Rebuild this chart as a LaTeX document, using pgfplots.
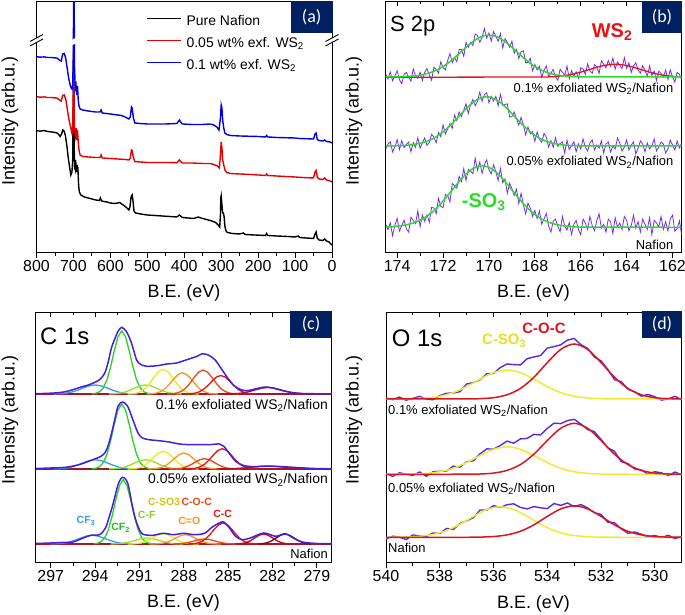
\documentclass[border=0pt]{standalone}
\usepackage{fontspec}
\setmainfont{Liberation Sans}
\newfontfamily\cali{Carlito}
\usepackage{pgfplots}
\pgfplotsset{compat=1.18}
\newcommand{\fs}[1]{\fontsize{#1}{#1}\selectfont}
\definecolor{navy}{RGB}{0,32,96}
\definecolor{apurple}{RGB}{125,40,240}
\definecolor{bgreen}{RGB}{40,220,40}
\definecolor{bred}{RGB}{230,20,20}
\definecolor{cenv}{RGB}{70,30,220}
\definecolor{cbase}{RGB}{170,20,40}
\definecolor{ccfthree}{RGB}{50,160,230}
\definecolor{ccftwo}{RGB}{40,210,40}
\definecolor{ccf}{RGB}{150,225,40}
\definecolor{ccso}{RGB}{235,235,20}
\definecolor{cco}{RGB}{250,150,30}
\definecolor{ccoc}{RGB}{240,70,20}
\definecolor{ccc}{RGB}{225,20,20}
\definecolor{cdone}{RGB}{185,10,30}
\definecolor{cdtwo}{RGB}{130,0,30}
\definecolor{lcso}{RGB}{200,200,20}
\definecolor{denv}{RGB}{90,40,230}
\definecolor{dred}{RGB}{220,20,30}
\definecolor{dyel}{RGB}{240,235,50}
\definecolor{ldyel}{RGB}{225,225,40}
\pgfplotsset{panel/.style={scale only axis, anchor=south west, x dir=reverse, ytick=\empty,
  xtick pos=left, tick align=outside, minor x tick num=1, major tick length=6bp, minor tick length=3.5bp,
  tick style={black, line width=0.9bp}, axis line style={line width=1bp},
  xticklabel style={font=\fs{16}, inner sep=2bp},
  /pgf/number format/assume math mode=true, /pgf/number format/1000 sep={}},
  topticks/.style={scale only axis, anchor=south west, x dir=reverse, ytick=\empty,
  xtick pos=right, tick align=inside, minor x tick num=1, major tick length=4.5bp, minor tick length=2.5bp,
  tick style={black, line width=0.9bp}, axis line style={draw=none}, xticklabel=\empty, ymin=0, ymax=1}}
\begin{document}
\begin{tikzpicture}[x=1bp,y=1bp]
\useasboundingbox (0,0) rectangle (685,615);
% ---------------- (a) ----------------
\begin{axis}[panel, at={(36.5bp,362.5bp)}, width=295.5bp, height=250.5bp,
  xmin=0, xmax=800, ymin=0, ymax=250.5, xtick={0,100,...,800},
  legend style={draw=none, fill=none, at={(0.3706,0.948)}, anchor=north west, font=\fs{14},
    inner sep=0pt, row sep=9bp, column sep=5bp, nodes={inner sep=0pt, text height=10bp, text depth=3bp}},
  legend cell align=left,
  legend image code/.code={\draw[#1] (0bp,3.5bp) -- (34bp,3.5bp);}]
\addplot[black, line width=1.4bp] coordinates {(800,121.8)(790,121.3)(780,122.0)(770,121.0)(760,120.6)(750,120.0)(745,119.6)(740,118.0)(736,116.0)(732,118.5)(729,122.5)(726,122.0)(722,117.5)(718,107.5)(714,94.5)(710,84.5)(707,77.5)(704,80.5)(702,92.5)(700.5,150)(699.5,200)(698.8,150)(698,110)(697,85)(695,82.5)(694,92.5)(692,80.5)(690,87.5)(689,80.5)(688,85.5)(686,67.5)(684,60.5)(680,57.5)(670,55.5)(660,54.5)(650,53.5)(640,52.5)(630,52.0)(627,54.5)(624,51.5)(610,50.5)(600,49.5)(590,49.0)(580,49.5)(575,50.0)(565,47.5)(555,44.5)(550,42.5)(547,45.5)(544,55.5)(541,57.5)(539,52.5)(536,41.5)(532,39.5)(525,39.0)(510,38.0)(500,37.5)(480,37.0)(460,36.5)(440,36.0)(420,35.5)(413,37.5)(410,36.5)(405,35.0)(390,34.5)(375,34.0)(362,35.5)(355,34.5)(340,33.0)(325,31.5)(315,30.0)(308,27.5)(304,25.5)(302,37.5)(301,54.5)(300,56.5)(298,47.5)(296,39.5)(294,39.5)(292,35.5)(290,26.5)(287,21.5)(283,20.0)(270,19.0)(250,18.5)(240,19.5)(235,18.0)(210,17.5)(180,17.0)(177,19.0)(174,17.0)(150,16.5)(120,16.0)(100,15.5)(92,16.5)(88,15.0)(70,14.5)(50,14.0)(46,18.5)(43,20.5)(40,14.5)(35,12.5)(25,12.0)(20,13.5)(15,11.5)(8,10.5)(3,8.5)(0,7.5)};
\addlegendentry{Pure Nafion}
\addplot[red!90!black, line width=1.4bp] coordinates {(800,155.8)(790,155.3)(780,155.6)(770,155.0)(760,155.0)(750,154.6)(745,154.5)(738,152.5)(733,151.5)(729,157.0)(725,157.5)(721,153.5)(717,144.5)(713,134.5)(709,127.5)(706,122.5)(704,119.5)(702,127.5)(700.5,160)(699.5,207)(698.8,180)(698,140)(697,125)(695,117.5)(693,124.5)(691,112.5)(689,122.5)(687,110.5)(685,102.5)(682,97.5)(675,96.0)(660,95.5)(640,95.0)(628,95.0)(625,97.5)(622,94.5)(600,94.0)(580,93.5)(560,93.0)(550,92.5)(546,94.5)(543,102.5)(541,102.0)(538,95.5)(534,91.0)(520,90.5)(500,90.0)(450,90.0)(420,89.8)(413,92.5)(410,91.0)(405,89.5)(380,89.5)(350,89.0)(330,89.0)(320,88.0)(310,86.5)(305,84.5)(302,97.5)(300,110.5)(298,104.5)(296,92.5)(293,87.5)(290,82.5)(285,80.0)(275,79.0)(250,78.5)(220,78.0)(180,77.0)(177,78.5)(174,77.0)(150,76.5)(100,75.5)(80,75.0)(50,74.5)(46,80.5)(43,82.0)(40,75.5)(35,73.5)(25,73.0)(20,74.5)(15,72.5)(5,71.5)(0,70.5)};
\addlegendentry{0.05 wt\% exf. WS\textsubscript{2}}
\addplot[blue!90!black, line width=1.4bp] coordinates {(800,195.8)(790,195.3)(780,195.6)(770,195.0)(760,195.0)(750,194.6)(745,194.5)(738,192.5)(733,191.5)(729,198.5)(725,199.0)(721,194.5)(717,184.5)(713,174.5)(709,167.5)(706,164.5)(704,163.5)(702,167.5)(700.5,195)(699.5,250)(698.8,290)(698,250)(697,185)(695,164.5)(693,167.5)(691,157.5)(689,166.5)(687,152.5)(685,146.5)(682,143.5)(675,142.5)(660,141.5)(640,140.5)(628,140.5)(625,142.5)(622,139.5)(600,138.5)(580,137.5)(570,137.0)(560,135.5)(550,133.5)(546,135.5)(543,145.5)(541,144.5)(538,135.5)(534,129.5)(520,129.0)(500,128.5)(450,128.5)(420,129.0)(413,132.5)(410,130.5)(405,128.5)(380,128.0)(350,128.0)(330,128.5)(320,127.5)(312,125.5)(306,122.5)(302,134.5)(300,147.5)(298,144.5)(296,132.5)(293,124.5)(290,119.5)(285,118.0)(275,117.0)(250,116.5)(200,116.0)(180,115.5)(177,117.0)(174,115.5)(150,115.0)(100,114.5)(90,114.0)(50,113.5)(46,118.5)(43,119.5)(40,113.0)(35,112.0)(25,111.5)(20,112.5)(15,111.0)(5,110.5)(0,109.5)};
\addlegendentry{0.1 wt\% exf. WS\textsubscript{2}}
\end{axis}
% ---------------- (b) ----------------
\begin{axis}[panel, at={(385.7bp,362.5bp)}, width=296bp, height=250.5bp,
  xmin=161.6, xmax=174.5, ymin=0, ymax=250.5, xtick={162,164,...,174}]
\addplot[apurple, line width=0.8bp] coordinates {(174.5,178.5)(174.4,173.5)(174.3,180.5)(174.2,171.6)(174.1,176.6)(174.0,181.7)(173.9,172.7)(173.8,168.8)(173.7,177.9)(173.6,180.0)(173.5,175.1)(173.4,171.3)(173.3,183.5)(173.2,176.7)(173.1,174.0)(173.0,180.3)(172.9,171.8)(172.8,180.3)(172.7,183.9)(172.6,177.5)(172.5,172.3)(172.4,185.2)(172.3,183.2)(172.2,179.3)(172.1,190.6)(172.0,185.0)(171.9,182.5)(171.8,192.2)(171.7,198.9)(171.6,189.8)(171.5,194.7)(171.4,190.8)(171.3,202.9)(171.2,203.0)(171.1,196.1)(171.0,210.2)(170.9,205.2)(170.8,210.1)(170.7,206.9)(170.6,218.5)(170.5,217.0)(170.4,210.2)(170.3,215.2)(170.2,223.9)(170.1,214.4)(170.0,219.5)(169.9,211.4)(169.8,220.9)(169.7,216.2)(169.6,211.2)(169.5,219.0)(169.4,204.5)(169.3,213.9)(169.2,210.1)(169.1,205.2)(169.0,211.2)(168.9,199.1)(168.8,203.0)(168.7,193.9)(168.6,200.8)(168.5,201.7)(168.4,189.8)(168.3,189.9)(168.2,194.2)(168.1,181.5)(168.0,188.0)(167.9,182.6)(167.8,186.3)(167.7,175.2)(167.6,182.2)(167.5,186.6)(167.4,175.9)(167.3,179.4)(167.2,183.0)(167.1,175.6)(167.0,172.3)(166.9,183.2)(166.8,180.2)(166.7,177.3)(166.6,186.4)(166.5,173.6)(166.4,181.9)(166.3,176.3)(166.2,180.7)(166.1,174.2)(166.0,184.8)(165.9,183.4)(165.8,178.1)(165.7,188.7)(165.6,181.4)(165.5,179.1)(165.4,187.8)(165.3,185.5)(165.2,179.1)(165.1,191.7)(165.0,188.2)(164.9,184.7)(164.8,192.0)(164.7,186.3)(164.6,194.5)(164.5,183.5)(164.4,190.5)(164.3,187.3)(164.2,184.0)(164.1,194.7)(164.0,184.2)(163.9,189.7)(163.8,180.1)(163.7,186.5)(163.6,189.8)(163.5,182.1)(163.4,179.4)(163.3,186.7)(163.2,182.0)(163.1,176.3)(163.0,186.6)(162.9,177.0)(162.8,181.4)(162.7,171.9)(162.6,181.4)(162.5,179.0)(162.4,175.6)(162.3,182.3)(162.2,173.0)(162.1,182.7)(162.0,175.5)(161.9,170.3)(161.8,180.2)(161.7,178.1)(161.6,172.9)};
\addplot[apurple, line width=0.8bp] coordinates {(174.5,103.6)(174.4,108.6)(174.3,110.6)(174.2,100.6)(174.1,105.7)(174.0,112.8)(173.9,102.8)(173.8,111.9)(173.7,105.0)(173.6,108.2)(173.5,110.4)(173.4,100.6)(173.3,109.9)(173.2,105.2)(173.1,114.7)(173.0,104.2)(172.9,109.8)(172.8,114.4)(172.7,107.2)(172.6,110.1)(172.5,118.2)(172.4,115.3)(172.3,109.7)(172.2,120.1)(172.1,115.8)(172.0,127.6)(171.9,118.5)(171.8,123.6)(171.7,128.8)(171.6,124.1)(171.5,137.4)(171.4,131.9)(171.3,140.4)(171.2,135.9)(171.1,142.4)(171.0,148.7)(170.9,139.0)(170.8,148.1)(170.7,153.0)(170.6,146.7)(170.5,151.1)(170.4,160.3)(170.3,151.1)(170.2,157.7)(170.1,159.8)(170.0,149.7)(169.9,156.1)(169.8,151.3)(169.7,156.1)(169.6,146.7)(169.5,158.0)(169.4,147.1)(169.3,148.0)(169.2,148.7)(169.1,135.4)(169.0,135.9)(168.9,140.4)(168.8,133.9)(168.7,127.4)(168.6,135.1)(168.5,127.8)(168.4,117.6)(168.3,125.5)(168.2,118.6)(168.1,120.8)(168.0,111.1)(167.9,120.7)(167.8,113.3)(167.7,110.2)(167.6,119.1)(167.5,115.2)(167.4,105.4)(167.3,111.8)(167.2,105.2)(167.1,114.7)(167.0,106.2)(166.9,108.9)(166.8,110.6)(166.7,99.4)(166.6,112.2)(166.5,103.0)(166.4,106.9)(166.3,110.8)(166.2,100.8)(166.1,108.7)(166.0,103.5)(165.9,113.5)(165.8,105.5)(165.7,101.5)(165.6,109.5)(165.5,112.5)(165.4,102.5)(165.3,107.5)(165.2,104.5)(165.1,111.5)(165.0,99.5)(164.9,108.5)(164.8,110.5)(164.7,100.5)(164.6,106.5)(164.5,103.5)(164.4,114.5)(164.3,109.5)(164.2,101.5)(164.1,105.5)(164.0,112.5)(163.9,102.5)(163.8,107.5)(163.7,110.5)(163.6,98.5)(163.5,104.5)(163.4,111.5)(163.3,108.5)(163.2,100.5)(163.1,109.5)(163.0,103.5)(162.9,106.5)(162.8,113.5)(162.7,101.5)(162.6,105.5)(162.5,110.5)(162.4,108.5)(162.3,99.5)(162.2,103.5)(162.1,112.5)(162.0,107.5)(161.9,102.5)(161.8,111.5)(161.7,104.5)(161.6,109.5)};
\addplot[apurple, line width=0.8bp] coordinates {(174.5,28.1)(174.4,23.0)(174.3,29.6)(174.2,16.8)(174.1,27.4)(174.0,34.1)(173.9,21.4)(173.8,26.9)(173.7,32.4)(173.6,23.8)(173.5,20.4)(173.4,35.3)(173.3,32.1)(173.2,29.0)(173.1,41.6)(173.0,25.8)(172.9,37.4)(172.8,31.0)(172.7,37.7)(172.6,30.3)(172.5,45.1)(172.4,44.5)(172.3,38.8)(172.2,54.2)(172.1,46.2)(172.0,44.9)(171.9,58.0)(171.8,56.9)(171.7,50.6)(171.6,69.1)(171.5,66.7)(171.4,64.4)(171.3,76.2)(171.2,71.1)(171.1,83.9)(171.0,72.0)(170.9,83.2)(170.8,81.1)(170.7,78.8)(170.6,94.3)(170.5,82.2)(170.4,90.5)(170.3,79.0)(170.2,87.9)(170.1,92.6)(170.0,82.6)(169.9,78.8)(169.8,87.6)(169.7,80.6)(169.6,72.0)(169.5,83.9)(169.4,69.8)(169.3,73.6)(169.2,59.2)(169.1,69.3)(169.0,63.9)(168.9,57.1)(168.8,63.4)(168.7,48.9)(168.6,59.2)(168.5,47.5)(168.4,38.6)(168.3,49.2)(168.2,44.5)(168.1,36.0)(168.0,42.0)(167.9,33.8)(167.8,41.4)(167.7,28.3)(167.6,33.6)(167.5,39.0)(167.4,26.4)(167.3,20.4)(167.2,31.4)(167.1,33.4)(167.0,26.4)(166.9,20.7)(166.8,36.0)(166.7,26.6)(166.6,22.4)(166.5,30.0)(166.4,18.1)(166.3,28.3)(166.2,32.1)(166.1,22.9)(166.0,17.8)(165.9,33.4)(165.8,29.5)(165.7,23.0)(165.6,36.0)(165.5,26.9)(165.4,21.7)(165.3,32.1)(165.2,38.6)(165.1,24.3)(165.0,28.2)(164.9,20.4)(164.8,33.4)(164.7,30.8)(164.6,19.1)(164.5,34.7)(164.4,25.6)(164.3,29.5)(164.2,23.0)(164.1,36.0)(164.0,32.1)(163.9,21.7)(163.8,26.9)(163.7,37.3)(163.6,24.3)(163.5,30.8)(163.4,20.4)(163.3,33.4)(163.2,28.2)(163.1,23.0)(163.0,34.7)(162.9,17.8)(162.8,32.1)(162.7,29.5)(162.6,25.6)(162.5,36.0)(162.4,23.0)(162.3,30.8)(162.2,21.7)(162.1,33.4)(162.0,37.3)(161.9,21.3)(161.8,23.9)(161.7,31.7)(161.6,17.4)};
\addplot[bred, line width=1.3bp] coordinates {(174.5,175.2)(167.5,175.5)(167.3,175.7)(167.1,176.0)(166.9,176.4)(166.7,177.0)(166.5,177.7)(166.3,178.6)(166.1,179.7)(165.9,181.0)(165.7,182.4)(165.5,183.8)(165.3,185.2)(165.1,186.4)(164.9,187.4)(164.7,188.0)(164.5,188.2)(164.3,188.0)(164.1,187.4)(163.9,186.4)(163.7,185.2)(163.5,183.8)(163.3,182.4)(163.1,181.0)(162.9,179.7)(162.7,178.6)(162.5,177.7)(162.3,177.0)(162.1,176.4)(161.9,176.0)(161.6,175.6)};
\addplot[bgreen, line width=1.5bp] coordinates {(174.5,175.5)(174.0,175.7)(173.8,175.8)(173.6,176.0)(173.4,176.3)(173.2,176.7)(173.0,177.3)(172.8,178.3)(172.6,179.5)(172.4,181.2)(172.2,183.3)(172.0,186.0)(171.8,189.2)(171.6,192.8)(171.4,196.8)(171.2,201.0)(171.0,205.2)(170.8,209.1)(170.6,212.5)(170.4,215.2)(170.2,216.9)(170.0,217.5)(169.8,216.9)(169.6,215.2)(169.4,212.5)(169.2,209.1)(169.0,205.2)(168.8,201.0)(168.6,196.8)(168.4,192.8)(168.2,189.2)(168.0,186.0)(167.8,183.3)(167.6,181.2)(167.4,179.5)(167.2,178.3)(167.0,177.3)(166.8,176.7)(166.6,176.3)(166.4,176.0)(166.2,175.8)(166.0,175.7)(161.6,175.5)};
\addplot[bgreen, line width=1.5bp] coordinates {(174.5,106.5)(174.1,106.7)(173.9,106.8)(173.7,107.0)(173.5,107.4)(173.3,107.9)(173.1,108.7)(172.9,109.8)(172.7,111.2)(172.5,113.2)(172.3,115.7)(172.1,118.8)(171.9,122.5)(171.7,126.8)(171.5,131.4)(171.3,136.4)(171.1,141.4)(170.9,146.0)(170.7,150.0)(170.5,153.1)(170.3,155.1)(170.1,155.8)(169.9,155.1)(169.7,153.1)(169.5,150.0)(169.3,146.0)(169.1,141.4)(168.9,136.4)(168.7,131.4)(168.5,126.8)(168.3,122.5)(168.1,118.8)(167.9,115.7)(167.7,113.2)(167.5,111.2)(167.3,109.8)(167.1,108.7)(166.9,107.9)(166.7,107.4)(166.5,107.0)(166.3,106.8)(166.1,106.7)(161.6,106.5)};
\addplot[bgreen, line width=1.5bp] coordinates {(174.5,25.6)(174.3,25.7)(174.1,26.1)(173.9,26.6)(173.7,27.2)(173.5,28.2)(173.3,29.5)(173.1,31.2)(172.9,33.5)(172.7,36.4)(172.5,39.9)(172.3,44.0)(172.1,48.8)(171.9,54.1)(171.7,59.7)(171.5,65.4)(171.3,71.0)(171.1,76.1)(170.9,80.6)(170.7,84.0)(170.5,86.1)(170.3,86.8)(170.1,86.1)(169.9,84.0)(169.7,80.6)(169.5,76.1)(169.3,71.0)(169.1,65.4)(168.9,59.7)(168.7,54.1)(168.5,48.8)(168.3,44.0)(168.1,39.9)(167.9,36.4)(167.7,33.5)(167.5,31.2)(167.3,29.5)(167.1,28.2)(166.9,27.2)(166.7,26.6)(166.5,26.1)(166.3,25.7)(166.0,25.4)(161.6,25.2)};
\end{axis}
\begin{axis}[topticks, at={(385.7bp,362.5bp)}, width=296bp, height=250.5bp, xmin=161.6, xmax=174.5, xtick={162,164,...,174}]
\addplot[draw=none] coordinates {(170,0.5)};
\end{axis}
% ---------------- (c) ----------------
\begin{axis}[panel, at={(36bp,52.5bp)}, width=295.7bp, height=249.8bp,
  xmin=278, xmax=298, ymin=0, ymax=249.8, xtick={279,282,...,297}]
\addplot[cbase, line width=1.2bp] coordinates {(298,168.5)(278,168.5)};
\addplot[cbase, line width=1.2bp] coordinates {(298,93.5)(278,93.5)};
\addplot[cbase, line width=1.2bp] coordinates {(298,18.5)(278,18.5)};
% top components
\addplot[ccfthree, line width=1.3bp] coordinates {(296.8,168.57)(296.4,168.76)(296.0,169.25)(295.6,170.35)(295.2,172.2)(294.8,174.6)(294.4,176.65)(294.0,177.5)(293.6,176.65)(293.2,174.6)(292.8,172.2)(292.4,170.35)(292.0,169.25)(291.6,168.76)(291.2,168.57)};
\addplot[ccftwo, line width=1.3bp] coordinates {(294.2,168.7)(293.95,169.2)(293.7,170.7)(293.45,174.7)(293.2,182.7)(292.95,195.8)(292.7,212.0)(292.45,225.9)(292.2,231.5)(291.95,225.9)(291.7,212.0)(291.45,195.8)(291.2,182.7)(290.95,174.7)(290.7,170.7)(290.45,169.2)(290.2,168.7)};
\addplot[ccf, line width=1.3bp] coordinates {(293.05,168.6)(292.7,168.8)(292.35,169.3)(292.0,170.4)(291.65,172.3)(291.3,174.6)(290.95,176.7)(290.6,177.5)(290.25,176.7)(289.9,174.6)(289.55,172.3)(289.2,170.4)(288.85,169.3)(288.5,168.8)(288.15,168.6)};
\addplot[ccso, line width=1.3bp] coordinates {(291.8,168.57)(291.5,168.8)(291.2,169.4)(290.9,171.0)(290.6,174.2)(290.3,179.3)(290.0,185.6)(289.7,191.0)(289.4,193.2)(289.1,191.0)(288.8,185.6)(288.5,179.3)(288.2,174.2)(287.9,171.0)(287.6,169.4)(287.3,168.8)(287.0,168.57)};
\addplot[cco, line width=1.3bp] coordinates {(290.5,168.56)(290.2,168.7)(289.9,169.3)(289.6,170.7)(289.3,173.4)(289.0,177.8)(288.7,183.3)(288.4,187.9)(288.1,189.8)(287.8,187.9)(287.5,183.3)(287.2,177.8)(286.9,173.4)(286.6,170.7)(286.3,169.3)(286.0,168.7)(285.7,168.56)};
\addplot[ccoc, line width=1.3bp] coordinates {(289.1,168.57)(288.8,168.8)(288.5,169.4)(288.2,170.9)(287.9,174.0)(287.6,179.0)(287.3,185.1)(287.0,190.4)(286.7,192.5)(286.4,190.4)(286.1,185.1)(285.8,179.0)(285.5,174.0)(285.2,170.9)(284.9,169.4)(284.6,168.8)(284.3,168.57)};
\addplot[ccc, line width=1.3bp] coordinates {(287.9,168.55)(287.6,168.7)(287.3,169.2)(287.0,170.4)(286.7,172.8)(286.4,176.6)(286.1,181.3)(285.8,185.4)(285.5,187.0)(285.2,185.4)(284.9,181.3)(284.6,176.6)(284.3,172.8)(284.0,170.4)(283.7,169.2)(283.4,168.7)(283.1,168.55)};
\addplot[cdone, line width=1.3bp] coordinates {(285.1,168.55)(284.7,168.7)(284.3,169.1)(283.9,169.8)(283.5,171.2)(283.1,172.9)(282.7,174.4)(282.3,175.0)(281.9,174.4)(281.5,172.9)(281.1,171.2)(280.7,169.8)(280.3,169.1)(279.9,168.7)(279.5,168.55)};
% middle components
\addplot[ccfthree, line width=1.3bp] coordinates {(296.8,93.6)(296.4,93.8)(296.0,94.3)(295.6,95.4)(295.2,97.3)(294.8,99.8)(294.4,101.9)(294.0,102.8)(293.6,101.9)(293.2,99.8)(292.8,97.3)(292.4,95.4)(292.0,94.3)(291.6,93.8)(291.2,93.6)};
\addplot[ccftwo, line width=1.3bp] coordinates {(294.2,93.7)(293.95,94.2)(293.7,95.8)(293.45,99.9)(293.2,108.2)(292.95,121.7)(292.7,138.4)(292.45,152.7)(292.2,158.5)(291.95,152.7)(291.7,138.4)(291.45,121.7)(291.2,108.2)(290.95,99.9)(290.7,95.8)(290.45,94.2)(290.2,93.7)};
\addplot[ccf, line width=1.3bp] coordinates {(293.05,93.6)(292.7,93.8)(292.35,94.3)(292.0,95.5)(291.65,97.4)(291.3,99.8)(290.95,102.0)(290.6,102.8)(290.25,102.0)(289.9,99.8)(289.55,97.4)(289.2,95.5)(288.85,94.3)(288.5,93.8)(288.15,93.6)};
\addplot[ccso, line width=1.3bp] coordinates {(291.8,93.55)(291.5,93.7)(291.2,94.2)(290.9,95.3)(290.6,97.6)(290.3,101.3)(290.0,105.8)(289.7,109.6)(289.4,111.2)(289.1,109.6)(288.8,105.8)(288.5,101.3)(288.2,97.6)(287.9,95.3)(287.6,94.2)(287.3,93.7)(287.0,93.55)};
\addplot[cco, line width=1.3bp] coordinates {(290.4,93.55)(290.1,93.7)(289.8,94.1)(289.5,95.1)(289.2,97.2)(288.9,100.5)(288.6,104.6)(288.3,108.1)(288.0,109.5)(287.7,108.1)(287.4,104.6)(287.1,100.5)(286.8,97.2)(286.5,95.1)(286.2,94.1)(285.9,93.7)(285.6,93.55)};
\addplot[ccoc, line width=1.3bp] coordinates {(289.0,93.53)(288.7,93.6)(288.4,93.9)(288.1,94.5)(287.8,95.9)(287.5,98.0)(287.2,100.6)(286.9,102.9)(286.6,103.8)(286.3,102.9)(286.0,100.6)(285.7,98.0)(285.4,95.9)(285.1,94.5)(284.8,93.9)(284.5,93.6)(284.2,93.53)};
\addplot[ccc, line width=1.3bp] coordinates {(287.8,93.56)(287.5,93.7)(287.2,94.3)(286.9,95.6)(286.6,98.2)(286.3,102.4)(286.0,107.6)(285.7,112.0)(285.4,113.8)(285.1,112.0)(284.8,107.6)(284.5,102.4)(284.2,98.2)(283.9,95.6)(283.6,94.3)(283.3,93.7)(283.0,93.56)};
\addplot[cdone, line width=1.3bp] coordinates {(285.8,93.54)(285.3,93.6)(284.8,93.8)(284.3,94.2)(283.8,94.7)(283.3,95.4)(282.8,96.0)(282.3,96.2)(281.8,96.0)(281.3,95.4)(280.8,94.7)(280.3,94.2)(279.8,93.8)(279.3,93.6)(278.8,93.54)};
% bottom components
\addplot[ccfthree, line width=1.3bp] coordinates {(297.0,18.57)(296.6,18.75)(296.2,19.2)(295.8,20.3)(295.4,22.1)(295.0,24.4)(294.6,26.4)(294.2,27.2)(293.8,26.4)(293.4,24.4)(293.0,22.1)(292.6,20.3)(292.2,19.2)(291.8,18.75)(291.4,18.57)};
\addplot[ccftwo, line width=1.3bp] coordinates {(294.1,18.7)(293.85,19.2)(293.6,20.8)(293.35,24.8)(293.1,33.0)(292.85,46.4)(292.6,62.9)(292.35,77.1)(292.1,82.8)(291.85,77.1)(291.6,62.9)(291.35,46.4)(291.1,33.0)(290.85,24.8)(290.6,20.8)(290.35,19.2)(290.1,18.7)};
\addplot[ccf, line width=1.3bp] coordinates {(292.95,18.55)(292.6,18.7)(292.25,19.05)(291.9,19.8)(291.55,21.0)(291.2,22.6)(290.85,24.0)(290.5,24.5)(290.15,24.0)(289.8,22.6)(289.45,21.0)(289.1,19.8)(288.75,19.05)(288.4,18.7)(288.05,18.55)};
\addplot[ccso, line width=1.3bp] coordinates {(291.8,18.53)(291.5,18.6)(291.2,18.9)(290.9,19.5)(290.6,20.9)(290.3,23.0)(290.0,25.6)(289.7,27.9)(289.4,28.8)(289.1,27.9)(288.8,25.6)(288.5,23.0)(288.2,20.9)(287.9,19.5)(287.6,18.9)(287.3,18.6)(287.0,18.53)};
\addplot[cco, line width=1.3bp] coordinates {(290.3,18.53)(290.0,18.6)(289.7,18.8)(289.4,19.4)(289.1,20.6)(288.8,22.6)(288.5,24.9)(288.2,27.0)(287.9,27.8)(287.6,27.0)(287.3,24.9)(287.0,22.6)(286.7,20.6)(286.4,19.4)(286.1,18.8)(285.8,18.6)(285.5,18.53)};
\addplot[ccoc, line width=1.3bp] coordinates {(288.7,18.55)(288.4,18.7)(288.1,19.0)(287.8,19.7)(287.5,20.7)(287.2,22.0)(286.9,23.1)(286.6,23.5)(286.3,23.1)(286.0,22.0)(285.7,20.7)(285.4,19.7)(285.1,19.0)(284.8,18.7)(284.5,18.55)};
\addplot[ccc, line width=1.3bp] coordinates {(287.75,18.56)(287.45,18.7)(287.15,19.3)(286.85,20.6)(286.55,23.3)(286.25,27.7)(285.95,33.1)(285.65,37.7)(285.35,39.5)(285.05,37.7)(284.75,33.1)(284.45,27.7)(284.15,23.3)(283.85,20.6)(283.55,19.3)(283.25,18.7)(282.95,18.56)};
\addplot[cdone, line width=1.3bp] coordinates {(284.4,18.61)(284.1,18.94)(283.8,19.85)(283.5,21.75)(283.2,24.6)(282.9,27.3)(282.6,28.5)(282.3,27.3)(282.0,24.6)(281.7,21.75)(281.4,19.85)(281.1,18.94)(280.8,18.61)};
\addplot[cdtwo, line width=1.3bp] coordinates {(282.95,18.61)(282.65,18.94)(282.35,19.85)(282.05,21.75)(281.75,24.6)(281.45,27.3)(281.15,28.5)(280.85,27.3)(280.55,24.6)(280.25,21.75)(279.95,19.85)(279.65,18.94)(279.35,18.61)};
% envelopes
\addplot[cenv, line width=1.5bp, smooth] coordinates {(298.0,168.8)(297.5,169.0)(297.0,169.3)(296.5,169.8)(296.0,170.8)(295.5,172.8)(295.0,175.3)(294.4,177.8)(293.8,181.8)(293.5,186.0)(293.3,191.2)(293.1,201.5)(292.9,214.5)(292.7,222.5)(292.45,231.2)(292.2,235.2)(291.9,231.2)(291.7,225.5)(291.5,217.5)(291.2,202.5)(291.0,199.0)(290.85,197.5)(290.5,196.2)(289.8,196.8)(289.15,198.5)(288.5,199.5)(287.8,202.8)(287.1,206.2)(286.8,208.5)(286.4,207.8)(285.9,202.8)(285.5,194.5)(285.0,183.8)(284.6,176.8)(284.15,172.8)(283.7,171.8)(283.1,173.8)(282.5,175.5)(282.0,174.5)(281.3,171.8)(280.6,169.8)(280.0,169.0)(279.0,168.7)(278.0,168.6)};
\addplot[cenv, line width=1.5bp, smooth] coordinates {(298.0,94.0)(297.0,94.5)(296.0,95.2)(295.1,97.8)(294.2,102.5)(293.6,106.2)(293.3,110.5)(293.1,117.8)(292.9,128.5)(292.7,141.2)(292.45,156.2)(292.15,160.5)(291.8,156.2)(291.45,142.8)(291.1,129.5)(290.8,124.5)(290.35,122.8)(289.7,121.8)(289.0,120.5)(288.3,118.5)(287.6,117.8)(286.9,117.8)(286.3,117.8)(285.6,118.5)(285.3,116.2)(284.95,109.5)(284.5,101.2)(284.0,97.2)(283.35,95.8)(282.4,96.5)(281.3,95.8)(280.2,94.8)(279.0,93.9)(278.0,93.7)};
\addplot[cenv, line width=1.5bp, smooth] coordinates {(298.0,19.0)(297.0,19.5)(296.0,20.2)(295.5,20.5)(294.8,24.5)(294.3,27.2)(293.7,27.8)(293.3,34.5)(293.05,45.5)(292.8,57.8)(292.45,77.8)(292.15,85.2)(291.8,79.5)(291.5,57.8)(291.3,45.0)(291.1,36.2)(290.8,28.5)(290.1,27.2)(289.4,29.2)(288.7,27.8)(288.0,29.2)(287.3,27.8)(286.6,29.2)(286.1,35.2)(285.6,39.5)(285.3,40.5)(284.95,35.2)(284.5,26.2)(284.05,22.8)(283.5,24.5)(282.6,29.5)(281.8,26.2)(281.15,28.8)(280.6,24.5)(280.0,20.5)(279.0,19.0)(278.0,18.8)};
\end{axis}
\begin{axis}[topticks, at={(36bp,52.5bp)}, width=295.7bp, height=249.8bp, xmin=278, xmax=298, xtick={279,282,...,297}]
\addplot[draw=none] coordinates {(290,0.5)};
\end{axis}
% ---------------- (d) ----------------
\begin{axis}[panel, at={(386bp,52.5bp)}, width=295.7bp, height=249.8bp,
  xmin=529, xmax=540, ymin=0, ymax=249.8, xtick={530,532,...,540}]
\addplot[denv, line width=1.4bp] coordinates {(540,164.5)(539.75,162.8)(539.5,165.4)(539.25,162.3)(539.0,164.2)(538.75,166.1)(538.5,163.5)(538.25,162.7)(538.0,166.9)(537.75,169.2)(537.5,169.5)(537.25,170.8)(537.0,178.5)(536.75,179.8)(536.5,182.7)(536.25,188.6)(536.0,189.1)(535.75,194.9)(535.5,198.5)(535.25,197.9)(535.0,197.6)(534.75,203.8)(534.5,205.5)(534.25,207.0)(534.0,214.4)(533.75,215.9)(533.5,217.7)(533.25,222.4)(533.0,224.0)(532.75,217.8)(532.5,214.1)(532.25,205.5)(532.0,201.6)(531.75,193.2)(531.5,182.8)(531.25,180.8)(531.0,173.3)(530.75,170.65)(530.5,166.3)(530.25,168.0)(530.0,165.8)(529.75,162.4)(529.5,163.5)(529.25,166.2)(529.0,162.6)};
\addplot[denv, line width=1.4bp] coordinates {(540,88.9)(539.75,86.1)(539.5,89.7)(539.25,88.34)(539.0,87.1)(538.75,90.5)(538.5,86.3)(538.25,90.8)(538.0,91.15)(537.75,91.5)(537.5,96.35)(537.25,95.4)(537.0,100.7)(536.75,101.8)(536.5,108.7)(536.25,113.6)(536.0,113.4)(535.75,116.95)(535.5,121.4)(535.25,119.3)(535.0,123.6)(534.75,124.1)(534.5,128.1)(534.25,127.6)(534.0,134.15)(533.75,139.3)(533.5,138.9)(533.25,141.9)(533.0,143.2)(532.75,138.5)(532.5,133.0)(532.25,130.9)(532.0,123.0)(531.75,114.65)(531.5,111.2)(531.25,100.8)(531.0,98.9)(530.75,93.5)(530.5,92.45)(530.25,88.3)(530.0,90.8)(529.75,89.55)(529.5,87.1)(529.25,90.45)(529.0,87.6)};
\addplot[denv, line width=1.4bp] coordinates {(540,23.4)(539.75,26.3)(539.5,25.35)(539.25,23.0)(539.0,27.55)(538.75,26.55)(538.5,25.9)(538.25,29.5)(538.0,29.0)(537.75,34.0)(537.5,33.0)(537.25,38.9)(537.0,41.75)(536.75,44.8)(536.5,52.5)(536.25,52.4)(536.0,56.8)(535.75,55.0)(535.5,57.75)(535.25,58.7)(535.0,55.1)(534.75,53.6)(534.5,55.9)(534.25,54.7)(534.0,53.9)(533.75,59.0)(533.5,57.1)(533.25,59.5)(533.0,55.9)(532.75,57.9)(532.5,54.55)(532.25,49.8)(532.0,48.0)(531.75,40.4)(531.5,39.7)(531.25,33.75)(531.0,29.1)(530.75,30.5)(530.5,28.3)(530.25,25.6)(530.0,26.96)(529.75,24.9)(529.5,27.2)(529.25,23.9)(529.0,25.6)};
\addplot[dyel, line width=1.5bp, smooth] coordinates {(540,163.5)(539.5,163.57)(539.0,163.8)(538.5,164.5)(538.0,166.2)(537.5,169.9)(537.0,175.9)(536.5,183.4)(536.0,189.9)(535.5,192.5)(535.0,189.9)(534.5,183.4)(534.0,175.9)(533.5,169.9)(533.0,166.2)(532.5,164.5)(532.0,163.8)(531.5,163.57)(529.0,163.5)};
\addplot[dyel, line width=1.5bp, smooth] coordinates {(540,88.2)(539.5,88.27)(539.0,88.47)(538.5,89.1)(538.0,90.8)(537.5,94.25)(537.0,99.9)(536.5,107.0)(536.0,113.2)(535.5,115.7)(535.0,113.2)(534.5,107.0)(534.0,99.9)(533.5,94.25)(533.0,90.8)(532.5,89.1)(532.0,88.47)(531.5,88.27)(529.0,88.2)};
\addplot[dyel, line width=1.5bp, smooth] coordinates {(540,25.2)(539.75,25.27)(539.25,25.5)(538.75,26.2)(538.25,28.07)(537.75,31.9)(537.25,38.2)(536.75,46.1)(536.25,52.96)(535.75,55.7)(535.25,52.96)(534.75,46.1)(534.25,38.2)(533.75,31.9)(533.25,28.07)(532.75,26.2)(532.25,25.5)(531.75,25.27)(529,25.2)};
\addplot[dred, line width=1.5bp, smooth] coordinates {(540,163.5)(537.0,163.58)(536.5,163.85)(536.0,164.8)(535.5,167.7)(535.0,174.0)(534.5,185.2)(534.0,199.9)(533.5,213.1)(533.0,218.5)(532.5,213.1)(532.0,199.9)(531.5,185.2)(531.0,174.0)(530.5,167.7)(530.0,164.8)(529.5,163.85)(529.0,163.58)};
\addplot[dred, line width=1.5bp, smooth] coordinates {(540,88.2)(537.0,88.27)(536.5,88.5)(536.0,89.4)(535.5,92.1)(535.0,97.9)(534.5,108.3)(534.0,122.0)(533.5,134.2)(533.0,139.2)(532.5,134.2)(532.0,122.0)(531.5,108.3)(531.0,97.9)(530.5,92.1)(530.0,89.4)(529.5,88.5)(529.0,88.27)};
\addplot[dred, line width=1.5bp, smooth] coordinates {(540,25.2)(537.0,25.24)(536.5,25.4)(536.0,25.96)(535.5,27.6)(535.0,31.2)(534.5,37.6)(534.0,46.1)(533.5,53.6)(533.0,56.7)(532.5,53.6)(532.0,46.1)(531.5,37.6)(531.0,31.2)(530.5,27.6)(530.0,25.96)(529.5,25.4)(529.0,25.24)};
\end{axis}
\begin{axis}[topticks, at={(386bp,52.5bp)}, width=295.7bp, height=249.8bp, xmin=529, xmax=540, xtick={530,532,...,540}]
\addplot[draw=none] coordinates {(535,0.5)};
\end{axis}
% ---------------- decorations and texts ----------------
\fill[white] (30,{615-45.5}) -- (43,{615-38.5}) -- (43,{615-34.5}) -- (30,{615-41.5}) -- cycle;
\draw[line width=0.9bp] (30,{615-46}) -- (43,{615-39});
\draw[line width=0.9bp] (30,{615-41.5}) -- (43,{615-34.5});
\fill[white] (325.5,{615-45.5}) -- (338.5,{615-38.5}) -- (338.5,{615-34.5}) -- (325.5,{615-41.5}) -- cycle;
\draw[line width=0.9bp] (325.5,{615-46}) -- (338.5,{615-39});
\draw[line width=0.9bp] (325.5,{615-41.5}) -- (338.5,{615-34.5});
\fill[white] (69,{615-47}) -- (79,{615-41.5}) -- (79,{615-36}) -- (69,{615-41.5}) -- cycle;
\fill[navy] (291,{615-1}) rectangle (332.5,{615-33});
\node[text=white, font=\cali\fs{18}] at (311.7,{615-17.5}) {(a)};
\fill[navy] (642,{615-1}) rectangle (682.2,{615-33});
\node[text=white, font=\cali\fs{18}] at (662,{615-17.5}) {(b)};
\fill[navy] (290,{615-311}) rectangle (332,{615-338});
\node[text=white, font=\cali\fs{18}] at (311,{615-324.5}) {(c)};
\fill[navy] (642,{615-311}) rectangle (682.2,{615-338});
\node[text=white, font=\cali\fs{18}] at (662,{615-324.5}) {(d)};
\node[rotate=90, font=\fs{18}] at (10,{615-121}) {Intensity (arb.u.)};
\node[rotate=90, font=\fs{18}] at (354,{615-121}) {Intensity (arb.u.)};
\node[rotate=90, font=\fs{18}] at (10,{615-420}) {Intensity (arb.u.)};
\node[rotate=90, font=\fs{18}] at (354,{615-420}) {Intensity (arb.u.)};
\node[font=\fs{18}] at (184,{615-293}) {B.E. (eV)};
\node[font=\fs{18}] at (533.5,{615-293}) {B.E. (eV)};
\node[font=\fs{18}] at (183.5,{615-603}) {B.E. (eV)};
\node[font=\fs{18}] at (533.5,{615-604}) {B.E. (eV)};
\node[font=\fs{22}, anchor=base west, inner sep=0pt] at (390,{615-31.7}) {S 2p};
\node[font=\bfseries\fs{20}, text=bred, anchor=base west, inner sep=0pt] at (591.7,{615-37.6}) {WS\textsubscript{2}};
\node[font=\bfseries\fs{20}, text=bgreen, anchor=base west, inner sep=0pt] at (461.7,{615-207.6}) {-SO\textsubscript{3}};
\node[font=\fs{13}, anchor=base east, inner sep=0pt] at (673.5,{615-92.6}) {0.1\% exfoliated WS\textsubscript{2}/Nafion};
\node[font=\fs{13}, anchor=base east, inner sep=0pt] at (673.5,{615-166}) {0.05\% exfoliated WS\textsubscript{2}/Nafion};
\node[font=\fs{13}, anchor=base east, inner sep=0pt] at (673.5,{615-250}) {Nafion};
\node[font=\fs{24}, anchor=base west, inner sep=0pt] at (40,{615-344.3}) {C 1s};
\node[font=\fs{14}, anchor=base east, inner sep=0pt] at (328,{615-409.5}) {0.1\% exfoliated WS\textsubscript{2}/Nafion};
\node[font=\fs{14}, anchor=base east, inner sep=0pt] at (328,{615-484}) {0.05\% exfoliated WS\textsubscript{2}/Nafion};
\node[font=\fs{13}, anchor=base east, inner sep=0pt] at (328,{615-559}) {Nafion};
\node[font=\bfseries\fs{10.5}, text=ccfthree] at (86,{615-521}) {CF\textsubscript{3}};
\node[font=\bfseries\fs{10.5}, text=ccftwo!90!black] at (120.7,{615-527.7}) {CF\textsubscript{2}};
\node[font=\bfseries\fs{10.5}, text=ccf!90!black] at (146.7,{615-515}) {C-F};
\node[font=\bfseries\fs{10.5}, text=lcso] at (164,{615-502.3}) {C-SO3};
\node[font=\bfseries\fs{10.5}, text=ccoc] at (196.7,{615-501.7}) {C-O-C};
\node[font=\bfseries\fs{10.5}, text=cco] at (189.3,{615-521}) {C=O};
\node[font=\bfseries\fs{10.5}, text=ccc] at (222.7,{615-514.3}) {C-C};
\node[font=\fs{24}, anchor=base west, inner sep=0pt] at (391.7,{615-346.7}) {O 1s};
\node[font=\bfseries\fs{15}, text=ldyel] at (504,{615-341}) {C-SO\textsubscript{3}};
\node[font=\bfseries\fs{15}, text=dred] at (544,{615-328}) {C-O-C};
\node[font=\fs{13}, anchor=base west, inner sep=0pt] at (388,{615-414.5}) {0.1\% exfoliated WS\textsubscript{2}/Nafion};
\node[font=\fs{13}, anchor=base west, inner sep=0pt] at (388,{615-492.6}) {0.05\% exfoliated WS\textsubscript{2}/Nafion};
\node[font=\fs{13}, anchor=base west, inner sep=0pt] at (388,{615-552.6}) {Nafion};
\end{tikzpicture}
\end{document}
